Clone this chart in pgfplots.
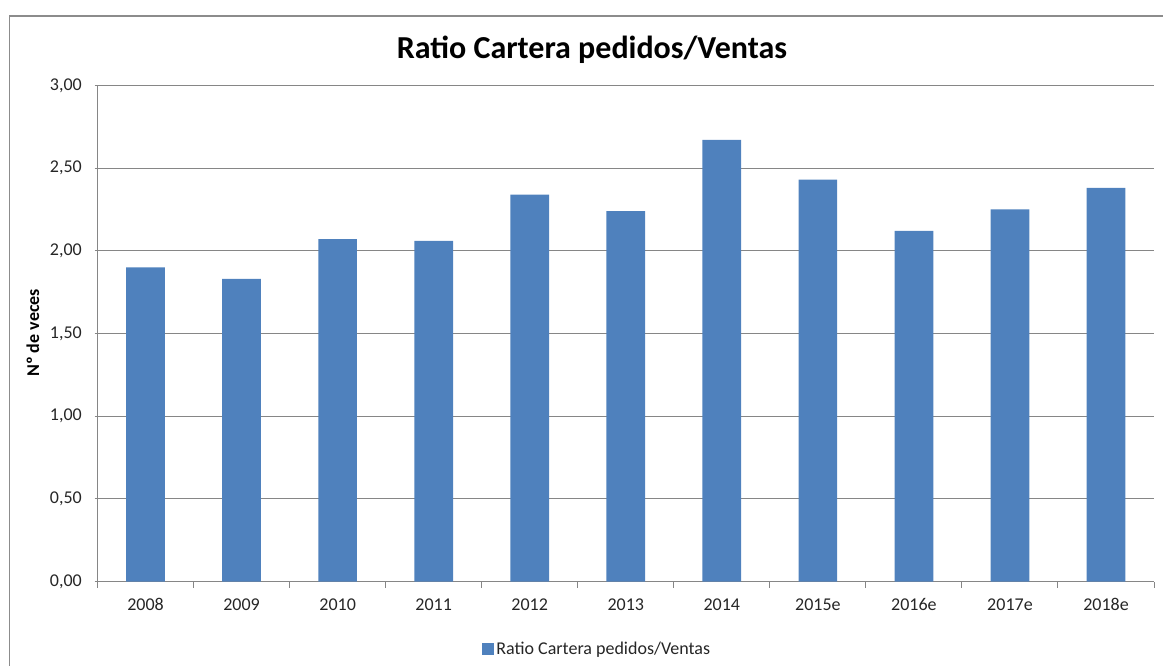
\documentclass[border=0pt]{standalone}
\usepackage{pgfplots}
\pgfplotsset{compat=1.18}
\usepackage{fontspec}
\setmainfont{Carlito}
\definecolor{bar}{HTML}{4F81BD}
\definecolor{gridc}{HTML}{868686}
\definecolor{framec}{HTML}{8C8C8C}
\begin{document}
\begin{tikzpicture}
\useasboundingbox (0,0) rectangle (872.25pt,499.5pt);
\draw[framec, line width=1pt] (6.9pt,-5pt) -- (6.9pt,487.5pt) -- (880pt,487.5pt);
\begin{axis}[
  at={(73.125pt,63.2pt)}, anchor=south west,
  scale only axis, width=792.4pt, height=372.3pt,
  xmin=-0.5, xmax=10.5, ymin=0, ymax=3,
  ytick={0,0.5,1,1.5,2,2.5,3},
  xtick={0,...,10},
  xticklabels={2008,2009,2010,2011,2012,2013,2014,2015e,2016e,2017e,2018e},
  minor xtick={-0.5,0.5,...,10.5},
  axis x line*=bottom, axis y line*=left,
  axis line style={gridc, line width=0.75pt},
  x axis line style={-}, y axis line style={-},
  ymajorgrids, major grid style={gridc, line width=0.75pt},
  major x tick style={draw=none},
  minor x tick style={gridc, line width=0.75pt},
  minor tick length=4.5pt,
  major tick length=2.25pt,
  tick align=outside,
  ytick style={gridc, line width=0.75pt},
  /pgf/number format/assume math mode=true,
  /pgf/number format/.cd, fixed, fixed zerofill, precision=2, use comma, /pgfplots/.cd,
  tick label style={font=\fontsize{13.5}{15}\selectfont, text=black!85},
  yticklabel style={xshift=-6pt},
  xticklabel style={yshift=-7pt, text height=9pt, text depth=0pt},
  ybar, bar width=29pt,
  legend style={at={(0.473,-0.136)}, anchor=center, draw=none,
    font=\fontsize{13.5}{15}\selectfont, inner sep=0pt, text=black!85},
  legend image code/.code={\fill[bar] (0pt,-4.5pt) rectangle (9pt,4.5pt);},
]
\addplot[fill=bar, draw=none] coordinates {
(0,1.90) (1,1.83) (2,2.07) (3,2.06) (4,2.34) (5,2.24) (6,2.67) (7,2.43) (8,2.12) (9,2.25) (10,2.38)};
\addlegendentry{Ratio Cartera pedidos/Ventas}
\end{axis}
\node[font=\fontsize{24}{28}\selectfont\bfseries] at (444pt,462pt) {Ratio Cartera pedidos/Ventas};
\node[font=\fontsize{13.5}{15}\selectfont\bfseries, rotate=90] at (24.75pt,249.75pt) {Nº de veces};
\end{tikzpicture}
\end{document}
